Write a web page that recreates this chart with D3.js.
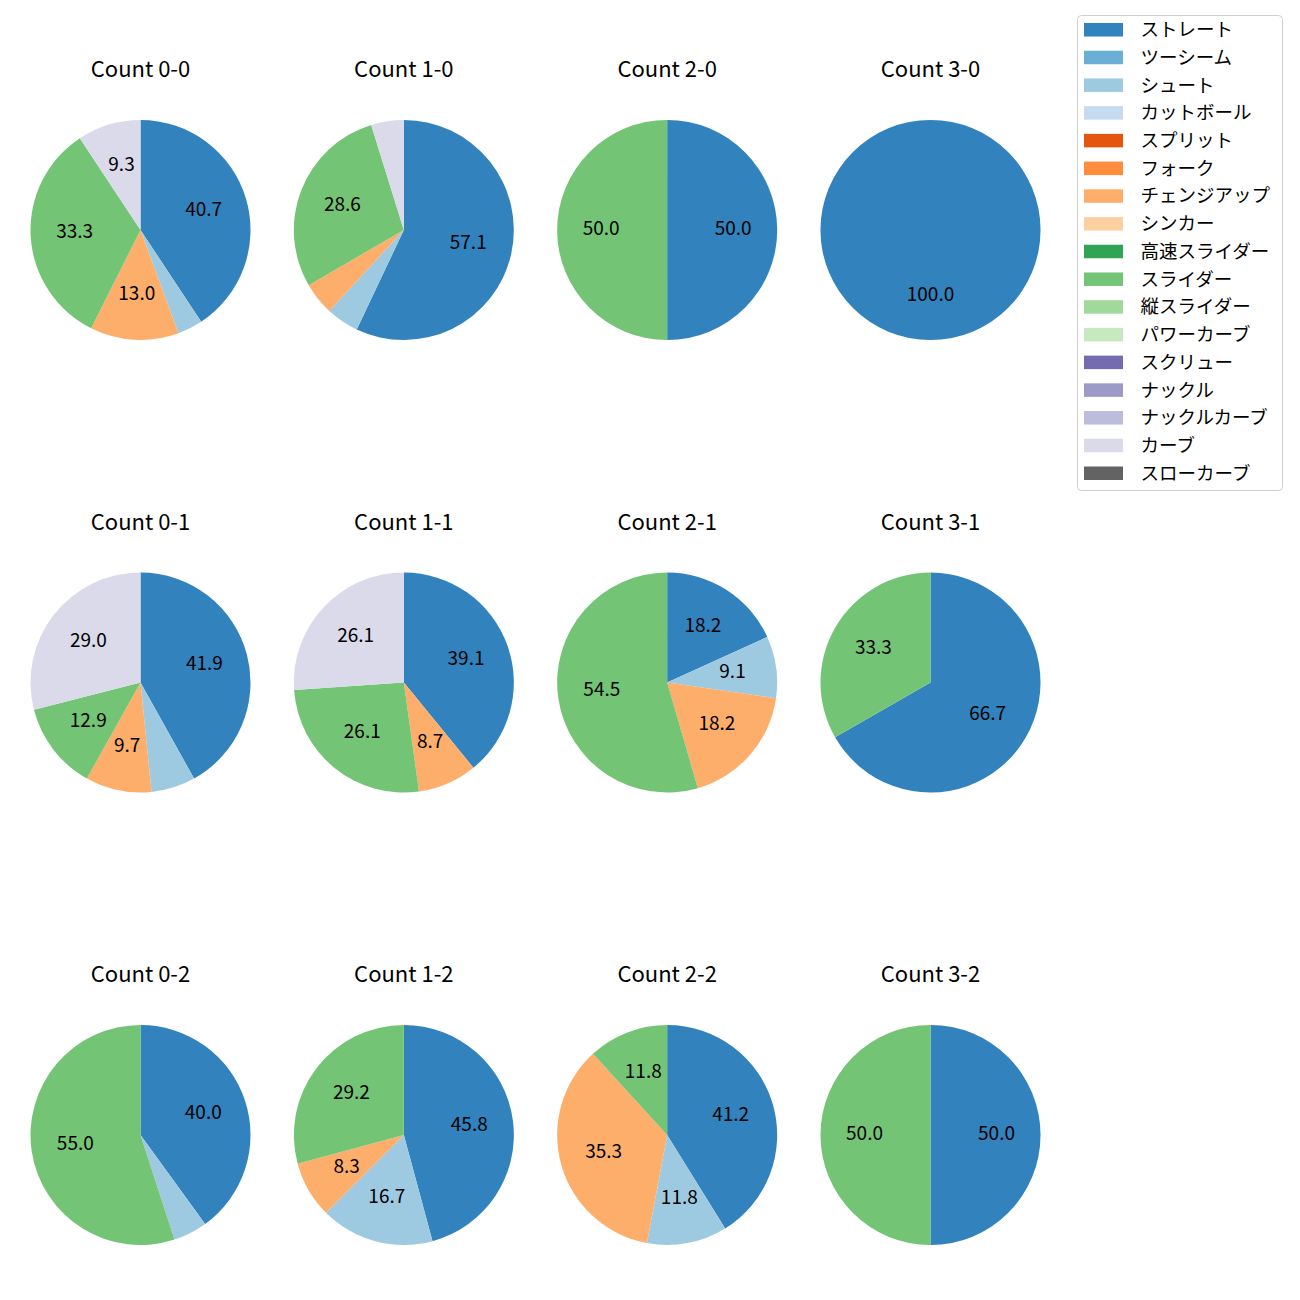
<!DOCTYPE html>
<html><head><meta charset="utf-8">
<script src="https://cdn.jsdelivr.net/npm/d3@7"></script>
<style>body{margin:0;background:#fff}svg{display:block}text{font-family:"Noto Sans CJK JP","Noto Sans",sans-serif}</style>
</head><body>
<script>
const pitchTypes = ["ストレート","ツーシーム","シュート","カットボール","スプリット","フォーク","チェンジアップ","シンカー","高速スライダー","スライダー","縦スライダー","パワーカーブ","スクリュー","ナックル","ナックルカーブ","カーブ","スローカーブ"];
const pitchColors = ["#3182bd","#6baed6","#9ecae1","#c6dbef","#e6550d","#fd8d3c","#fdae6b","#fdd0a2","#31a354","#74c476","#a1d99b","#c7e9c0","#756bb1","#9e9ac8","#bcbddc","#dadaeb","#636363"];
const counts = ["0-0","1-0","2-0","3-0","0-1","1-1","2-1","3-1","0-2","1-2","2-2","3-2"];
// values per count (percent)
const v00 = {"ストレート":40.7,"シュート":3.7,"チェンジアップ":13.0,"スライダー":33.3,"カーブ":9.3};
const v10 = {"ストレート":57.1,"シュート":4.8,"チェンジアップ":4.8,"スライダー":28.6,"カーブ":4.8};
const v20 = {"ストレート":50.0,"スライダー":50.0};
const v30 = {"ストレート":100.0};
const v01 = {"ストレート":41.9,"シュート":6.5,"チェンジアップ":9.7,"スライダー":12.9,"カーブ":29.0};
const v11 = {"ストレート":39.1,"チェンジアップ":8.7,"スライダー":26.1,"カーブ":26.1};
const v21 = {"ストレート":18.2,"シュート":9.1,"チェンジアップ":18.2,"スライダー":54.5};
const v31 = {"ストレート":66.7,"スライダー":33.3};
const v02 = {"ストレート":40.0,"シュート":5.0,"スライダー":55.0};
const v12 = {"ストレート":45.8,"シュート":16.7,"チェンジアップ":8.3,"スライダー":29.2};
const v22 = {"ストレート":41.2,"シュート":11.8,"チェンジアップ":35.3,"スライダー":11.8};
const v32 = {"ストレート":50.0,"スライダー":50.0};
const seriesValues = [v00,v10,v20,v30,v01,v11,v21,v31,v02,v12,v22,v32];

const W=1300,H=1300;
const svg=d3.select("body").append("svg").attr("width",W).attr("height",H);
const color=d3.scaleOrdinal().domain(pitchTypes).range(pitchColors);
const colX=d3.scalePoint().domain([0,1,2,3]).range([140.5,930.5]);
const rowY=d3.scalePoint().domain([0,1,2]).range([230,1135]);
const R=110;
const pie=d3.pie().sort(null).value(d=>d.v).startAngle(0).endAngle(2*Math.PI);
const arc=d3.arc().innerRadius(0).outerRadius(R);
const labelArc=d3.arc().innerRadius(R*0.6).outerRadius(R*0.6);

counts.forEach((c,i)=>{
  const col=i%4,row=Math.floor(i/4);
  const cx=colX(col),cy=rowY(row);
  const data=pitchTypes.filter(p=>seriesValues[i][p]!==undefined).map(p=>({p,v:seriesValues[i][p]}));
  const g=svg.append("g").attr("transform",`translate(${cx},${cy})`);
  const arcs=pie(data);
  g.selectAll("path").data(arcs).join("path").attr("d",arc).attr("fill",d=>color(d.data.p));
  g.selectAll("text.lbl").data(arcs.filter(d=>d.data.v>7)).join("text").attr("class","lbl")
    .attr("transform",d=>{const [x,y]=labelArc.centroid(d);return `translate(${x},${y})`;})
    .attr("text-anchor","middle").attr("dy","0.24em").attr("font-size","19px").attr("fill","#000")
    .text(d=>d.data.v.toFixed(1));
  svg.append("text").attr("x",cx).attr("y",cy-153).attr("text-anchor","middle")
    .attr("font-size","22px").attr("fill","#000").text("Count "+c);
});

// legend
const lg=svg.append("g");
lg.append("rect").attr("x",1077.5).attr("y",15.5).attr("width",205).attr("height",475).attr("rx",4)
  .attr("fill","#fff").attr("stroke","#d0d0d0").attr("stroke-width",1);
const ly=d3.scaleLinear().domain([0,pitchTypes.length-1]).range([29.5,473]);
pitchTypes.forEach((p,i)=>{
  lg.append("rect").attr("x",1084).attr("y",ly(i)-6.5).attr("width",39).attr("height",13.5).attr("fill",color(p));
  lg.append("text").attr("x",1140.5).attr("y",ly(i)).attr("dy","0.36em").attr("font-size","18.5px").attr("fill","#000").text(p);
});
</script>
</body></html>
